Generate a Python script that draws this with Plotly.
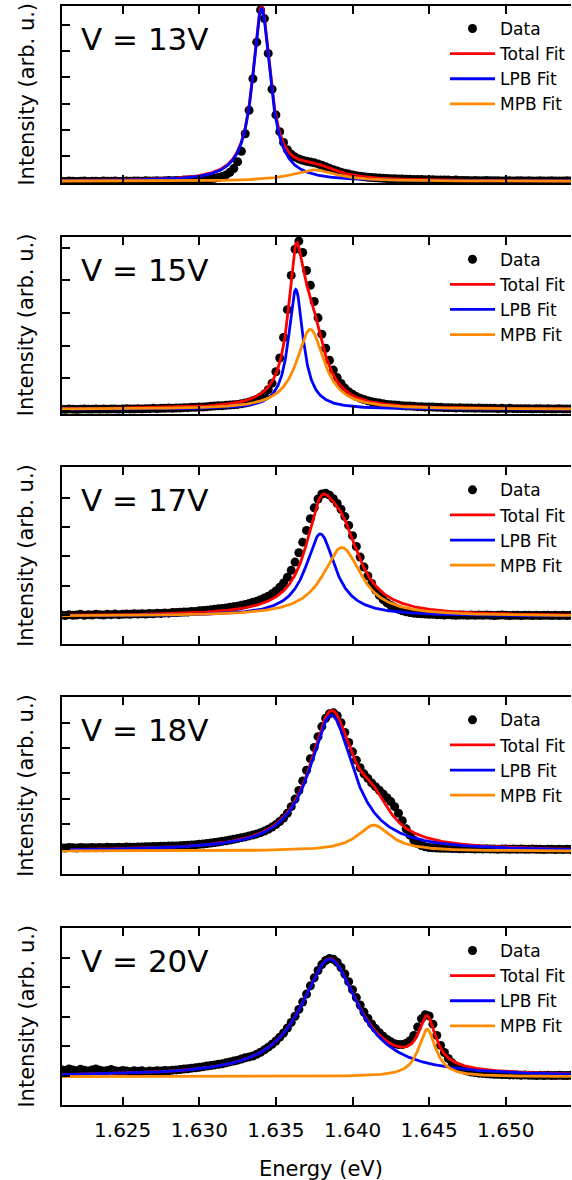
import numpy as np
import plotly.graph_objects as go

# Bias voltage for each stacked panel
voltages = [13, 15, 17, 18, 20]

# Spectrometer energy axis (eV), shared by all spectra
energy = np.linspace(1.6210, 1.6545, 135)

# Measured PL intensity (arb. u.) for each voltage
counts_13v = [
    0.04, 0.03, 0.05, 0.04, 0.03, 0.04, 0.05, 0.03, 0.04, 0.04,
    0.03, 0.05, 0.04, 0.04, 0.05, 0.03, 0.04, 0.05, 0.04, 0.05,
    0.05, 0.04, 0.06, 0.05, 0.05, 0.06, 0.05, 0.06, 0.07, 0.06,
    0.07, 0.07, 0.08, 0.08, 0.09, 0.09, 0.10, 0.11, 0.12, 0.13,
    0.15, 0.18, 0.22, 0.28, 0.38, 0.52, 0.78, 1.18, 1.85, 2.75,
    3.95, 5.35, 6.58, 6.25, 4.92, 3.55, 2.57, 1.93, 1.52, 1.24,
    1.07, 0.96, 0.89, 0.84, 0.80, 0.77, 0.74, 0.70, 0.65, 0.59,
    0.53, 0.48, 0.43, 0.38, 0.34, 0.31, 0.28, 0.25, 0.23, 0.21,
    0.19, 0.18, 0.17, 0.16, 0.15, 0.14, 0.13, 0.13, 0.12, 0.12,
    0.11, 0.11, 0.10, 0.10, 0.10, 0.09, 0.09, 0.09, 0.08, 0.08,
    0.08, 0.08, 0.07, 0.08, 0.07, 0.07, 0.07, 0.06, 0.07, 0.06,
    0.06, 0.07, 0.06, 0.06, 0.06, 0.05, 0.06, 0.06, 0.05, 0.06,
    0.06, 0.05, 0.06, 0.05, 0.05, 0.06, 0.05, 0.05, 0.06, 0.05,
    0.05, 0.05, 0.06, 0.05, 0.05,
]
counts_15v = [
    0.05, 0.04, 0.06, 0.05, 0.04, 0.05, 0.06, 0.05, 0.05, 0.06,
    0.05, 0.06, 0.05, 0.06, 0.06, 0.05, 0.06, 0.07, 0.06, 0.06,
    0.07, 0.06, 0.07, 0.07, 0.08, 0.07, 0.08, 0.08, 0.09, 0.08,
    0.09, 0.09, 0.10, 0.10, 0.11, 0.11, 0.12, 0.12, 0.13, 0.14,
    0.15, 0.16, 0.16, 0.17, 0.18, 0.19, 0.20, 0.22, 0.24, 0.27,
    0.31, 0.36, 0.43, 0.52, 0.65, 0.85, 1.20, 1.62, 2.25, 3.10,
    4.15, 4.95, 5.20, 4.85, 4.30, 3.85, 3.35, 2.85, 2.35, 1.92,
    1.55, 1.25, 1.02, 0.84, 0.70, 0.59, 0.51, 0.44, 0.39, 0.35,
    0.31, 0.28, 0.26, 0.24, 0.22, 0.20, 0.19, 0.18, 0.17, 0.16,
    0.15, 0.15, 0.14, 0.13, 0.13, 0.12, 0.12, 0.12, 0.11, 0.11,
    0.10, 0.10, 0.10, 0.09, 0.10, 0.09, 0.09, 0.09, 0.08, 0.09,
    0.08, 0.08, 0.08, 0.08, 0.07, 0.08, 0.07, 0.08, 0.07, 0.07,
    0.07, 0.07, 0.07, 0.06, 0.07, 0.07, 0.06, 0.07, 0.06, 0.06,
    0.07, 0.06, 0.06, 0.06, 0.06,
]
counts_17v = [
    1.00, 0.98, 1.01, 0.99, 1.00, 1.02, 0.99, 1.01, 1.00, 1.02,
    1.01, 1.00, 1.02, 1.01, 1.03, 1.01, 1.02, 1.03, 1.02, 1.04,
    1.03, 1.04, 1.03, 1.05, 1.04, 1.06, 1.05, 1.07, 1.06, 1.08,
    1.08, 1.09, 1.10, 1.10, 1.12, 1.12, 1.14, 1.15, 1.16, 1.18,
    1.19, 1.21, 1.22, 1.24, 1.26, 1.28, 1.30, 1.33, 1.36, 1.39,
    1.43, 1.47, 1.52, 1.58, 1.64, 1.72, 1.82, 1.94, 2.09, 2.28,
    2.52, 2.80, 3.12, 3.48, 3.88, 4.28, 4.65, 4.95, 5.12, 5.15,
    5.08, 4.96, 4.80, 4.60, 4.35, 4.05, 3.70, 3.33, 2.97, 2.63,
    2.33, 2.07, 1.85, 1.67, 1.52, 1.41, 1.32, 1.25, 1.19, 1.14,
    1.11, 1.08, 1.06, 1.05, 1.04, 1.03, 1.02, 1.02, 1.01, 1.01,
    1.00, 1.01, 1.00, 0.99, 1.00, 1.00, 0.99, 1.00, 0.99, 1.00,
    0.99, 1.00, 0.99, 0.98, 0.99, 1.00, 0.99, 0.98, 0.99, 0.99,
    0.98, 0.99, 0.99, 0.98, 0.99, 0.98, 0.99, 0.99, 0.98, 0.99,
    0.98, 0.99, 0.98, 0.99, 0.98,
]
counts_18v = [
    1.05, 1.04, 1.06, 1.05, 1.04, 1.06, 1.05, 1.05, 1.06, 1.05,
    1.06, 1.05, 1.07, 1.06, 1.06, 1.07, 1.06, 1.08, 1.07, 1.07,
    1.08, 1.08, 1.09, 1.09, 1.10, 1.10, 1.11, 1.11, 1.12, 1.12,
    1.12, 1.13, 1.14, 1.15, 1.16, 1.17, 1.19, 1.20, 1.22, 1.24,
    1.26, 1.28, 1.31, 1.33, 1.36, 1.39, 1.42, 1.45, 1.48, 1.52,
    1.56, 1.60, 1.65, 1.71, 1.78, 1.87, 1.97, 2.09, 2.23, 2.42,
    2.68, 2.98, 3.32, 3.70, 4.12, 4.58, 5.02, 5.45, 5.85, 6.18,
    6.36, 6.40, 6.28, 6.00, 5.62, 5.22, 4.85, 4.52, 4.22, 3.98,
    3.80, 3.62, 3.47, 3.33, 3.18, 3.03, 2.88, 2.68, 2.42, 2.12,
    1.80, 1.55, 1.36, 1.22, 1.14, 1.09, 1.06, 1.05, 1.04, 1.03,
    1.03, 1.03, 1.02, 1.02, 1.01, 1.01, 1.02, 1.01, 1.00, 1.01,
    1.00, 1.01, 1.00, 1.00, 0.99, 1.00, 1.00, 0.99, 1.00, 0.99,
    1.00, 0.99, 0.99, 1.00, 0.99, 0.99, 0.98, 0.99, 0.99, 0.98,
    0.99, 0.98, 0.99, 0.98, 0.99,
]
counts_20v = [
    1.20, 1.17, 1.22, 1.19, 1.16, 1.21, 1.18, 1.15, 1.19, 1.22,
    1.18, 1.15, 1.17, 1.20, 1.16, 1.14, 1.17, 1.15, 1.13, 1.16,
    1.14, 1.16, 1.13, 1.15, 1.14, 1.16, 1.15, 1.17, 1.16, 1.18,
    1.19, 1.20, 1.22, 1.23, 1.25, 1.26, 1.28, 1.30, 1.32, 1.34,
    1.36, 1.38, 1.40, 1.43, 1.46, 1.49, 1.52, 1.56, 1.60, 1.63,
    1.66, 1.72, 1.79, 1.87, 1.96, 2.06, 2.17, 2.30, 2.44, 2.61,
    2.80, 3.01, 3.24, 3.49, 3.76, 4.04, 4.31, 4.56, 4.76, 4.90,
    4.97, 4.94, 4.84, 4.66, 4.44, 4.18, 3.91, 3.64, 3.39, 3.15,
    2.94, 2.75, 2.59, 2.45, 2.33, 2.22, 2.14, 2.08, 2.05, 2.05,
    2.09, 2.18, 2.36, 2.64, 2.92, 3.06, 3.02, 2.74, 2.36, 2.02,
    1.78, 1.58, 1.43, 1.32, 1.25, 1.19, 1.15, 1.12, 1.10, 1.08,
    1.07, 1.06, 1.05, 1.04, 1.04, 1.03, 1.03, 1.02, 1.02, 1.02,
    1.01, 1.02, 1.01, 1.01, 1.00, 1.01, 1.00, 1.01, 1.00, 1.00,
    1.01, 1.00, 1.00, 1.01, 1.00,
]
spectra = [counts_13v, counts_15v, counts_17v, counts_18v, counts_20v]

# Two-Lorentzian fit parameters per voltage (energies in eV)
baseline = [0.04, 0.05, 0.96, 0.92, 0.96]
lpb_center = [1.63406, 1.63630, 1.63790, 1.63862, 1.63851]
lpb_height = [6.59, 3.67, 2.80, 5.38, 3.98]
lpb_hwhm = [0.00070, 0.00058, 0.00117, 0.00176, 0.00230]
mpb_center = [1.63750, 1.63725, 1.63931, 1.64139, 1.64487]
mpb_height = [0.43, 2.45, 2.34, 1.03, 1.61]
mpb_hwhm = [0.00175, 0.00110, 0.00153, 0.00130, 0.00068]

# Intensity window shown in each panel
y_windows = [[-0.03, 6.73], [-0.085, 5.335], [0.0, 6.03], [0.0, 7.01], [0.0, 6.0]]

energy_tick_values = [1.625, 1.630, 1.635, 1.640, 1.645, 1.650]
energy_tick_text = ["1.625", "1.630", "1.635", "1.640", "1.645", "1.650"]


def lorentzian(e, center, height, hwhm):
    return height / (1.0 + ((e - center) / hwhm) ** 2)


FONT = "DejaVu Sans"
W, H = 572, 1180
M_LEFT, M_TOP, M_BOTTOM = 62, 6, 75
PLOT_H = H - M_TOP - M_BOTTOM
PANEL_H = 177
panel_tops = [6, 236.7, 467.3, 697.3, 928.0]
x_window = [1.62104, 1.65426]
fine_energy = np.linspace(1.6205, 1.6550, 1200)


def yfrac(px):
    return min(1.0, max(0.0, (H - M_BOTTOM - px) / PLOT_H))


def yfrac_free(px):
    return (H - M_BOTTOM - px) / PLOT_H


def xfrac(px):
    return (px - M_LEFT) / (W - M_LEFT)


fig = go.Figure()
layout = dict(
    width=W, height=H,
    margin=dict(l=M_LEFT, r=0, t=M_TOP, b=M_BOTTOM, pad=0),
    plot_bgcolor="white", paper_bgcolor="white",
    font=dict(family=FONT, color="black"),
    showlegend=True,
)
annotations = []
n_panels = len(voltages)

for i, volt in enumerate(voltages):
    n = "" if i == 0 else str(i + 1)
    xa, ya, lg = "x" + n, "y" + n, "legend" + n
    b = baseline[i]
    lpb = b + lorentzian(fine_energy, lpb_center[i], lpb_height[i], lpb_hwhm[i])
    mpb = b + lorentzian(fine_energy, mpb_center[i], mpb_height[i], mpb_hwhm[i])
    total = lpb + mpb - b

    fig.add_trace(go.Scatter(
        x=energy, y=spectra[i], mode="markers", name="Data",
        marker=dict(color="black", size=9, line=dict(width=0)),
        xaxis=xa, yaxis=ya, legend=lg, legendgroup=f"d{i}"))
    fig.add_trace(go.Scatter(
        x=fine_energy, y=total, mode="lines", name="Total Fit",
        line=dict(color="#ff0000", width=2.8),
        xaxis=xa, yaxis=ya, legend=lg, legendgroup=f"t{i}"))
    fig.add_trace(go.Scatter(
        x=fine_energy, y=lpb, mode="lines", name="LPB Fit",
        line=dict(color="#0000ff", width=2.8),
        xaxis=xa, yaxis=ya, legend=lg, legendgroup=f"l{i}"))
    fig.add_trace(go.Scatter(
        x=fine_energy, y=mpb, mode="lines", name="MPB Fit",
        line=dict(color="#ff8c00", width=2.8),
        xaxis=xa, yaxis=ya, legend=lg, legendgroup=f"m{i}"))

    top = panel_tops[i]
    last = i == n_panels - 1
    domain_y = [yfrac(top + PANEL_H), yfrac(top)]
    layout["xaxis" + n] = dict(
        domain=[0, 1], anchor=ya, range=x_window,
        tickmode="array", tickvals=energy_tick_values, ticktext=energy_tick_text,
        ticks="inside", ticklen=8, tickwidth=1.5, tickcolor="black",
        showline=True, linewidth=2, linecolor="black", mirror="ticks",
        showgrid=False, zeroline=False, showticklabels=last,
        tickfont=dict(family=FONT, size=20, color="black"),
        ticklabelstandoff=6,
    )
    layout["yaxis" + n] = dict(
        domain=domain_y, anchor=xa,
        range=y_windows[i], tick0=0, dtick=1,
        ticks="inside", ticklen=8, tickwidth=1.5, tickcolor="black",
        showline=True, linewidth=2, linecolor="black", mirror=False,
        showgrid=False, zeroline=False, showticklabels=False,
    )
    # right-hand tick marks only (frame edge lies past the page)
    layout["yaxis" + str(n_panels + i + 1)] = dict(
        overlaying=ya, side="right", anchor=xa,
        range=y_windows[i], tick0=0, dtick=1,
        ticks="inside", ticklen=8, tickwidth=1.5, tickcolor="black",
        showline=False, showgrid=False, zeroline=False, showticklabels=False,
    )
    layout[lg] = dict(
        x=xfrac(446), xanchor="left", y=yfrac(top + 5), yanchor="top",
        xref="paper", yref="paper",
        bgcolor="rgba(0,0,0,0)", borderwidth=0,
        font=dict(family=FONT, size=17, color="black"),
        tracegroupgap=0, traceorder="grouped", itemwidth=45,
    )
    annotations.append(dict(
        text=f"V = {volt}V", xref="paper", yref="paper",
        x=xfrac(79), y=yfrac(top + 33), xanchor="left", yanchor="middle",
        showarrow=False, font=dict(family=FONT, size=31, color="black")))
    annotations.append(dict(
        text="Intensity (arb. u.)", xref="paper", yref="paper",
        x=xfrac(26), y=yfrac(top + PANEL_H / 2), xanchor="center", yanchor="middle",
        textangle=-90, showarrow=False,
        font=dict(family=FONT, size=21, color="black")))

annotations.append(dict(
    text="Energy (eV)", xref="paper", yref="paper",
    x=xfrac(322), y=yfrac_free(1169), xanchor="center", yanchor="middle",
    showarrow=False, font=dict(family=FONT, size=21, color="black")))
layout["annotations"] = annotations

fig.update_layout(**layout)
fig.write_html("out.html")
